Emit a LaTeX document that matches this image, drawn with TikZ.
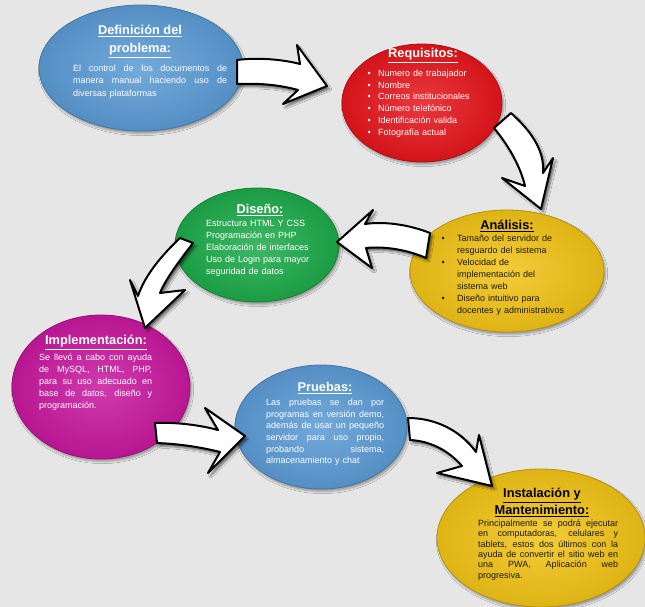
\documentclass[tikz,border=0pt]{standalone}
\usepackage{fontspec}
\setmainfont{Liberation Sans}
\usetikzlibrary{shapes.geometric,shadows.blur}
\definecolor{bg}{HTML}{E6E6E6}
\definecolor{cblue}{HTML}{5B9BD5}
\definecolor{cred}{HTML}{E5161C}
\definecolor{cgreen}{HTML}{1DAA4A}
\definecolor{cyellow}{HTML}{F2C316}
\definecolor{cmag}{HTML}{C8189E}
\definecolor{dtext}{HTML}{1A1A1A}
\newcommand\jline[2]{\makebox[#1][s]{\spaceskip=.25em plus 10em\xspaceskip=.25em plus 10em\relax #2}}
\newcommand\bul[1]{\makebox[#1][l]{\textbullet}}
\tikzset{
  stage/.style={ellipse, inner sep=0pt, draw=#1!75!black, line width=0.8pt,
    inner color=#1!85!white, outer color=#1!92!black,
    blur shadow={shadow xshift=1.5pt, shadow yshift=-2.5pt, shadow opacity=35}},
  ttl/.style={font=\fontsize{12.8}{15}\selectfont\bfseries, inner sep=0pt, anchor=base},
  bodytxt/.style={font=\fontsize{9}{#1}\selectfont, inner sep=0pt, anchor=base west, align=left, text width=160pt},
  blockarrow/.style={draw=black, line width=2pt, fill=white, line join=round,
    blur shadow={shadow xshift=2.5pt, shadow yshift=-3pt, shadow opacity=55}}
}
\begin{document}
\begin{tikzpicture}[x=1pt,y=-1pt]
\fill[bg] (0,0) rectangle (645,607);
\useasboundingbox (0,0) rectangle (645,607);

% stages
\node[stage=cblue, minimum width=204pt, minimum height=126pt] (def) at (141,68) {};
\node[stage=cred, minimum width=160pt, minimum height=118pt] (req) at (422,103) {};
\node[stage=cgreen, minimum width=164pt, minimum height=114pt] (dis) at (257,245) {};
\node[stage=cyellow, minimum width=194pt, minimum height=122pt] (ana) at (507,271) {};
\node[stage=cmag, minimum width=178pt, minimum height=144pt] (imp) at (101,387) {};
\node[stage=cblue, minimum width=172pt, minimum height=124pt] (pru) at (321,427) {};
\node[stage=cyellow, minimum width=208pt, minimum height=138pt] (ins) at (541,538) {};

% arrows
\draw[blockarrow] (237,60) .. controls (260,57) and (285,60) .. (300,64) -- (297,45) -- (327,86) -- (283,104) -- (298,90) .. controls (280,85) and (260,83) .. (237,84) -- cycle;
\draw[blockarrow] (511,113) .. controls (530,130) and (545,150) .. (543,173) -- (553,158) -- (541,209) -- (502,178) -- (525,186) .. controls (520,165) and (508,145) .. (494,128) -- cycle;
\draw[blockarrow] (430,233) .. controls (410,225) and (385,221) .. (365,224) -- (373,210) -- (337,242) -- (372,268) -- (366,248) .. controls (385,246) and (408,250) .. (426,258) -- cycle;
\draw[blockarrow] (193,243) .. controls (180,260) and (165,280) .. (160,293) -- (185,290) -- (145,328) -- (130,280) -- (138,296) .. controls (145,275) and (162,255) .. (180,238) -- cycle;
\draw[blockarrow] (155,423) .. controls (175,422) and (200,425) .. (218,430) -- (205,408) -- (245,436) -- (208,473) -- (220,452) .. controls (200,447) and (180,444) .. (157,443) -- cycle;
\draw[blockarrow] (408,418) .. controls (435,418) and (460,430) .. (476,452) -- (479,435) -- (492,486) -- (437,473) -- (462,466) .. controls (448,450) and (430,441) .. (410,440) -- cycle;

% texts
\node[ttl, white] (tdef1) at (140,34.7) {\underline{Definición del}};
\node[ttl, white] (tdef2) at (140,52.7) {\underline{problema:}};
\node[bodytxt=12.5, white] (bdef) at (73,71.3)
  {\jline{154pt}{El control de los documentos de}\\\jline{154pt}{manera manual haciendo uso de}\\diversas plataformas};

\node[ttl, white] (treq) at (423,57.7) {\underline{Requisitos:}};
\node[bodytxt=11.8, white] (breq) at (367.5,76.3)
  {\bul{10.5pt}Numero de trabajador\\\bul{10.5pt}Nombre\\\bul{10.5pt}Correos institucionales\\\bul{10.5pt}Número telefónico\\\bul{10.5pt}Identificación valida\\\bul{10.5pt}Fotografía actual};

\node[ttl, white] (tdis) at (260,213.7) {\underline{Diseño:}};
\node[bodytxt=12, white] (bdis) at (206,226.3)
  {Estructura HTML Y CSS\\Programación en PHP\\Elaboración de interfaces\\Uso de Login para mayor\\seguridad de datos};

\node[ttl, black] (tana) at (507,229.7) {\underline{Análisis:}};
\node[bodytxt=12, dtext] (bana) at (441.5,241.3)
  {\bul{15.5pt}Tamaño del servidor de\\\hspace*{15.5pt}resguardo del sistema\\\bul{15.5pt}Velocidad de\\\hspace*{15.5pt}implementación del\\\hspace*{15.5pt}sistema web\\\bul{15.5pt}Diseño intuitivo para\\\hspace*{15.5pt}docentes y administrativos};

\node[ttl, white] (timp) at (96,344.7) {\underline{Implementación:}};
\node[bodytxt=12, white] (bimp) at (39,360.3)
  {\jline{113pt}{Se llevó a cabo con ayuda}\\\jline{113pt}{de MySQL, HTML, PHP,}\\\jline{113pt}{para su uso adecuado en}\\\jline{113pt}{base de datos, diseño y}\\programación.};

\node[ttl, white] (tpru) at (325,391.7) {\underline{Pruebas:}};
\node[bodytxt=11.7, white] (bpru) at (266,405.3)
  {\jline{118pt}{Las pruebas se dan por}\\\jline{118pt}{programas en versión demo,}\\\jline{118pt}{además de usar un pequeño}\\\jline{118pt}{servidor para uso propio,}\\\jline{118pt}{probando sistema,}\\almacenamiento y chat};

\node[ttl, black] (tins1) at (542,497.7) {\underline{Instalación y}};
\node[ttl, black] (tins2) at (542,514.7) {\underline{Mantenimiento:}};
\node[bodytxt=10.4, dtext] (bins) at (478,526.3)
  {\jline{140pt}{Principalmente se podrá ejecutar}\\\jline{140pt}{en computadoras, celulares y}\\\jline{140pt}{tablets, estos dos últimos con la}\\\jline{140pt}{ayuda de convertir el sitio web en}\\\jline{140pt}{una PWA, Aplicación web}\\progresiva.};
\end{tikzpicture}
\end{document}
